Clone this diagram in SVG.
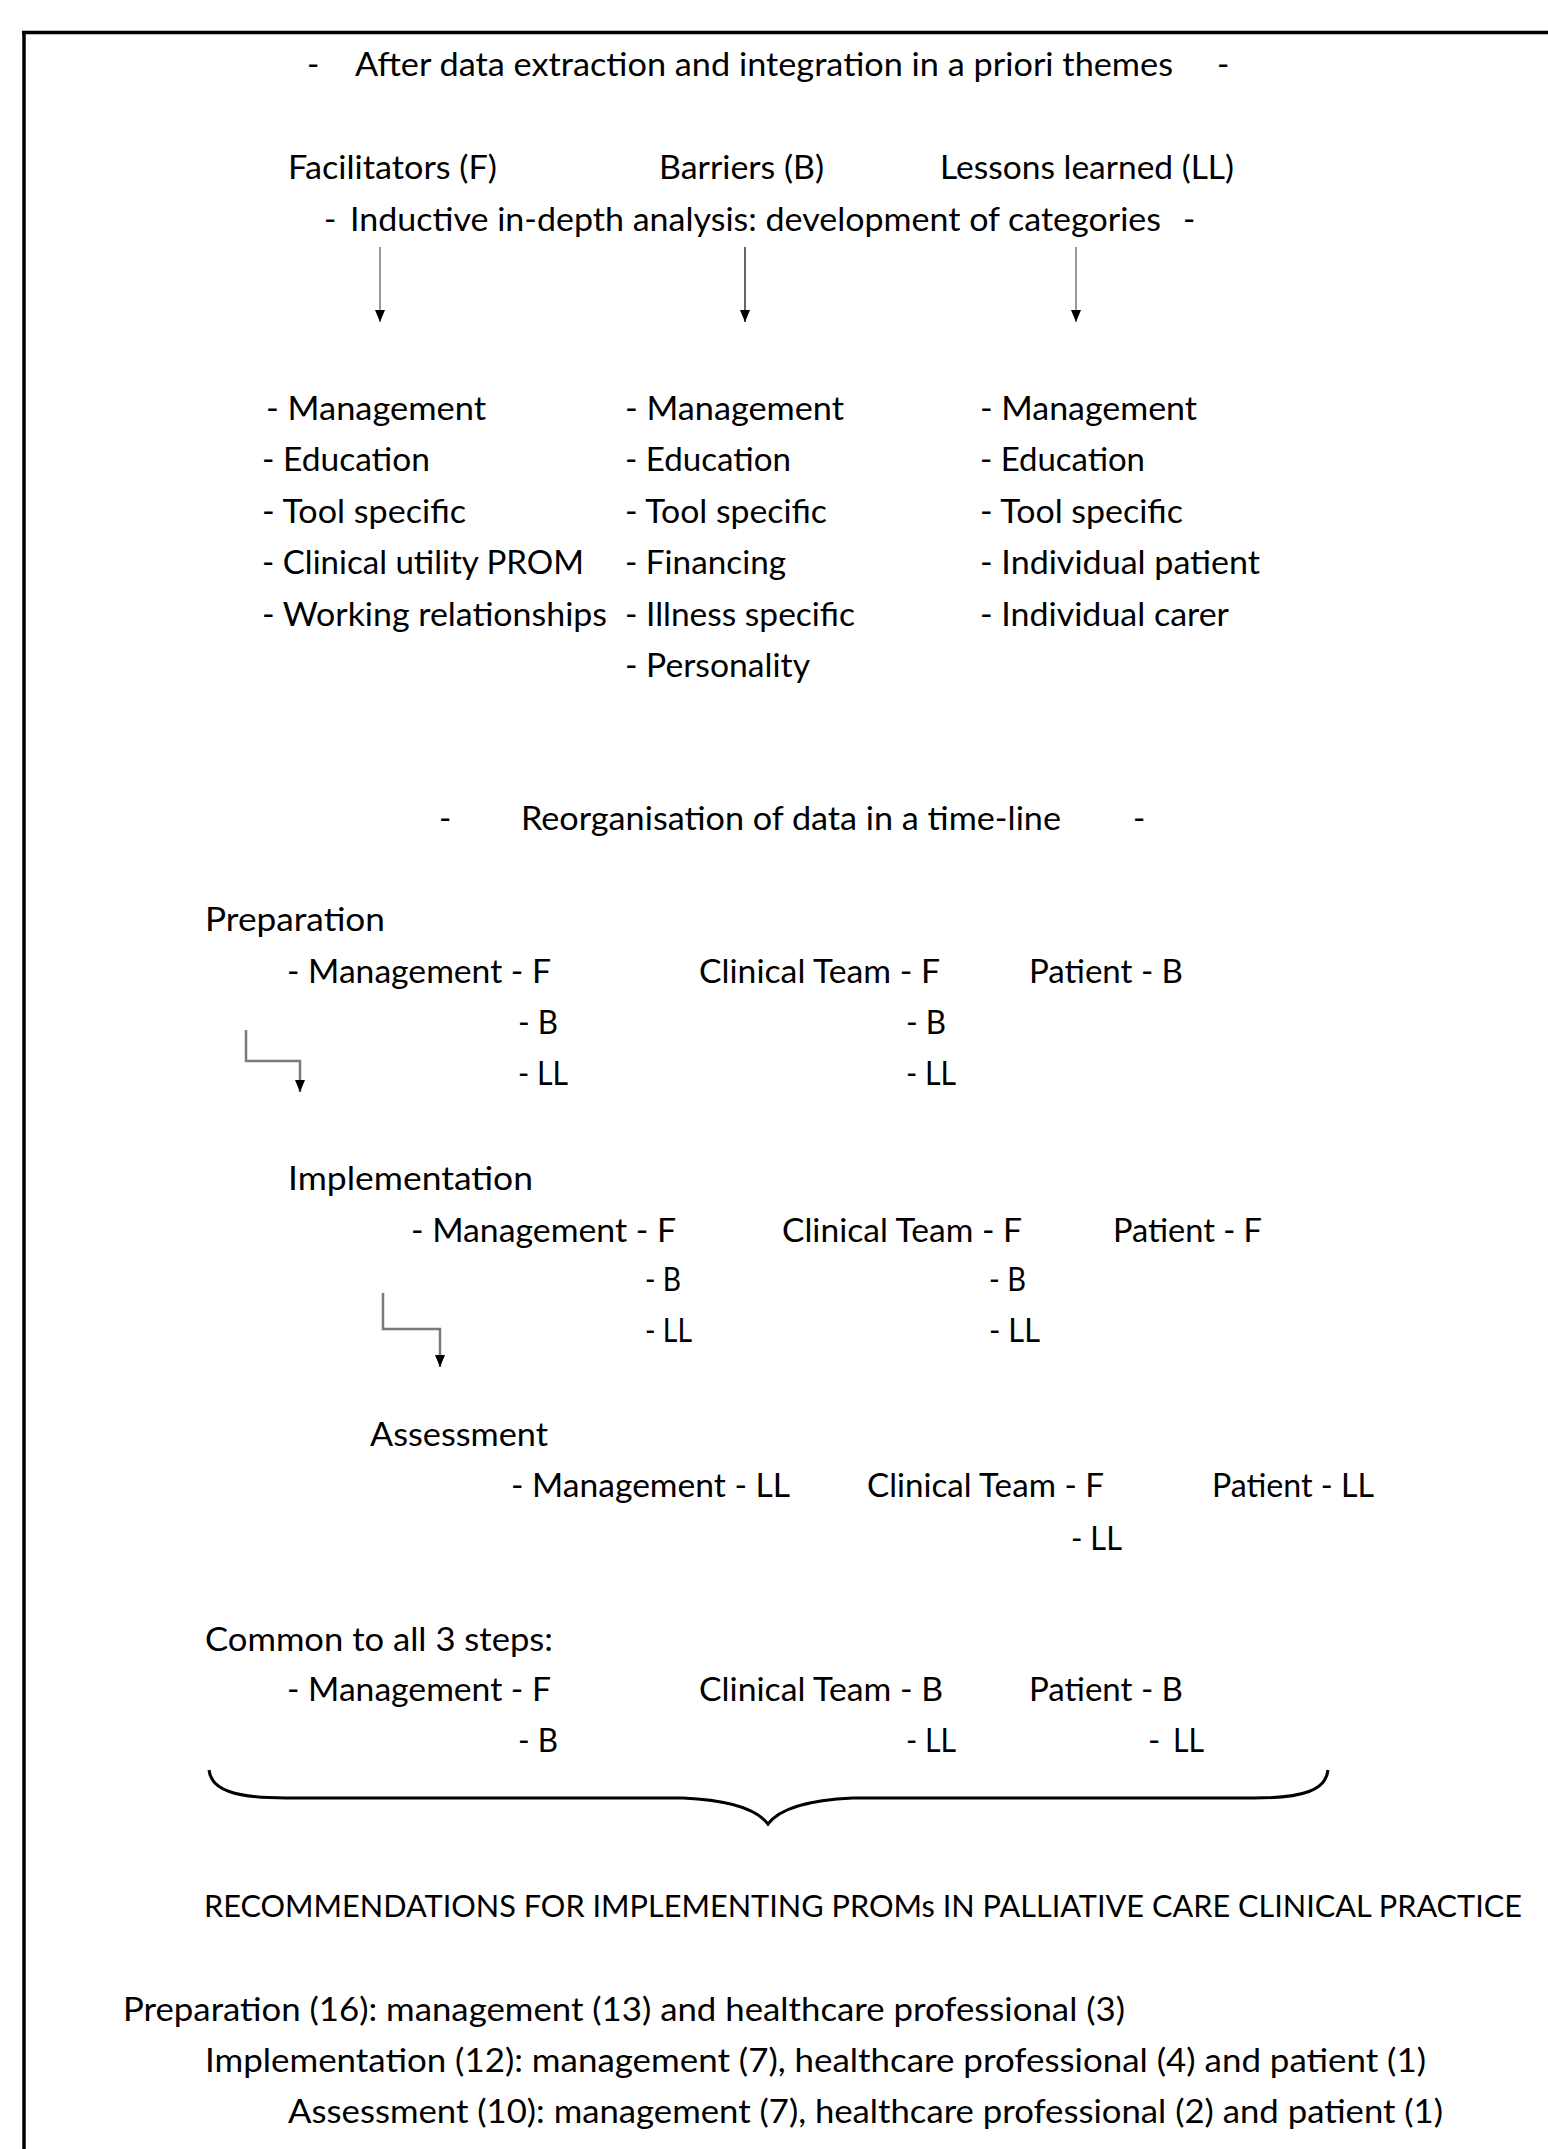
<svg xmlns="http://www.w3.org/2000/svg" width="1548" height="2149" viewBox="0 0 1548 2149">
<style>
.t{font-family:Lato,"Open Sans","Liberation Sans",sans-serif;font-size:33px;fill:#000}
.frame{stroke:#000;stroke-width:3.5;fill:none}
.arr{stroke:#999;stroke-width:2;fill:none}
.elb{stroke:#7a7a7a;stroke-width:2.5;fill:none}
.brace{stroke:#000;stroke-width:3;fill:none}
</style>
<defs>
<marker id="ah" viewBox="0 0 12 10" refX="12" refY="5" markerWidth="12" markerHeight="10" markerUnits="userSpaceOnUse" orient="auto">
<path d="M0,0 L12,5 L0,10 z" fill="#000"/>
</marker>
</defs>
<rect width="1548" height="2149" fill="#fff"/>
<g id="frame">
<line class="frame" x1="22" y1="32.5" x2="1548" y2="32.5"/>
<line class="frame" x1="24" y1="31" x2="24" y2="2149"/>
</g>
<g id="header1">
<text class="t" x="307" y="76">-</text>
<text class="t" x="355" y="76" textLength="818" lengthAdjust="spacingAndGlyphs">After data extraction and integration in a priori themes</text>
<text class="t" x="1217" y="76">-</text>
</g>
<g id="themes">
<text class="t" x="288" y="179" textLength="209" lengthAdjust="spacingAndGlyphs">Facilitators (F)</text>
<text class="t" x="659" y="179" textLength="165" lengthAdjust="spacingAndGlyphs">Barriers (B)</text>
<text class="t" x="940" y="179" textLength="294" lengthAdjust="spacingAndGlyphs">Lessons learned (LL)</text>
</g>
<g id="header2">
<text class="t" x="324" y="231">-</text>
<text class="t" x="350" y="231" textLength="811" lengthAdjust="spacingAndGlyphs">Inductive in-depth analysis: development of categories</text>
<text class="t" x="1183" y="231">-</text>
</g>
<g id="cat-facilitators">
<text class="t" x="266" y="420" textLength="220" lengthAdjust="spacingAndGlyphs">- Management</text>
<text class="t" x="262" y="471" textLength="168" lengthAdjust="spacingAndGlyphs">- Education</text>
<text class="t" x="262" y="523" textLength="204" lengthAdjust="spacingAndGlyphs">- Tool specific</text>
<text class="t" x="262" y="574" textLength="322" lengthAdjust="spacingAndGlyphs">- Clinical utility PROM</text>
<text class="t" x="262" y="626" textLength="345" lengthAdjust="spacingAndGlyphs">- Working relationships</text>
</g>
<g id="cat-barriers">
<text class="t" x="625" y="420" textLength="219" lengthAdjust="spacingAndGlyphs">- Management</text>
<text class="t" x="625" y="471" textLength="166" lengthAdjust="spacingAndGlyphs">- Education</text>
<text class="t" x="625" y="523" textLength="202" lengthAdjust="spacingAndGlyphs">- Tool specific</text>
<text class="t" x="625" y="574" textLength="161" lengthAdjust="spacingAndGlyphs">- Financing</text>
<text class="t" x="625" y="626" textLength="230" lengthAdjust="spacingAndGlyphs">- Illness specific</text>
<text class="t" x="625" y="677" textLength="185" lengthAdjust="spacingAndGlyphs">- Personality</text>
</g>
<g id="cat-lessons">
<text class="t" x="980" y="420" textLength="217" lengthAdjust="spacingAndGlyphs">- Management</text>
<text class="t" x="980" y="471" textLength="165" lengthAdjust="spacingAndGlyphs">- Education</text>
<text class="t" x="980" y="523" textLength="203" lengthAdjust="spacingAndGlyphs">- Tool specific</text>
<text class="t" x="980" y="574" textLength="280" lengthAdjust="spacingAndGlyphs">- Individual patient</text>
<text class="t" x="980" y="626" textLength="249" lengthAdjust="spacingAndGlyphs">- Individual carer</text>
</g>
<g id="header3">
<text class="t" x="439" y="830">-</text>
<text class="t" x="521" y="830" textLength="540" lengthAdjust="spacingAndGlyphs">Reorganisation of data in a time-line</text>
<text class="t" x="1133" y="830">-</text>
</g>
<g id="preparation">
<text class="t" x="205" y="931" textLength="180" lengthAdjust="spacingAndGlyphs">Preparation</text>
<text class="t" x="287" y="983" textLength="264" lengthAdjust="spacingAndGlyphs">- Management - F</text>
<text class="t" x="518" y="1034" textLength="40" lengthAdjust="spacingAndGlyphs">- B</text>
<text class="t" x="518" y="1085" textLength="50" lengthAdjust="spacingAndGlyphs">- LL</text>
<text class="t" x="699" y="983" textLength="241" lengthAdjust="spacingAndGlyphs">Clinical Team - F</text>
<text class="t" x="906" y="1034" textLength="40" lengthAdjust="spacingAndGlyphs">- B</text>
<text class="t" x="906" y="1085" textLength="50" lengthAdjust="spacingAndGlyphs">- LL</text>
<text class="t" x="1029" y="983" textLength="154" lengthAdjust="spacingAndGlyphs">Patient - B</text>
</g>
<g id="implementation">
<text class="t" x="288" y="1190" textLength="245" lengthAdjust="spacingAndGlyphs">Implementation</text>
<text class="t" x="411" y="1242" textLength="265" lengthAdjust="spacingAndGlyphs">- Management - F</text>
<text class="t" x="645" y="1291" textLength="36" lengthAdjust="spacingAndGlyphs">- B</text>
<text class="t" x="645" y="1342" textLength="47" lengthAdjust="spacingAndGlyphs">- LL</text>
<text class="t" x="782" y="1242" textLength="240" lengthAdjust="spacingAndGlyphs">Clinical Team - F</text>
<text class="t" x="989" y="1291" textLength="37" lengthAdjust="spacingAndGlyphs">- B</text>
<text class="t" x="989" y="1342" textLength="51" lengthAdjust="spacingAndGlyphs">- LL</text>
<text class="t" x="1113" y="1242" textLength="149" lengthAdjust="spacingAndGlyphs">Patient - F</text>
</g>
<g id="assessment">
<text class="t" x="370" y="1446" textLength="178" lengthAdjust="spacingAndGlyphs">Assessment</text>
<text class="t" x="511" y="1497" textLength="279" lengthAdjust="spacingAndGlyphs">- Management - LL</text>
<text class="t" x="867" y="1497" textLength="237" lengthAdjust="spacingAndGlyphs">Clinical Team - F</text>
<text class="t" x="1071" y="1550" textLength="51" lengthAdjust="spacingAndGlyphs">- LL</text>
<text class="t" x="1212" y="1497" textLength="162" lengthAdjust="spacingAndGlyphs">Patient - LL</text>
</g>
<g id="common">
<text class="t" x="205" y="1651" textLength="348" lengthAdjust="spacingAndGlyphs">Common to all 3 steps:</text>
<text class="t" x="287" y="1701" textLength="264" lengthAdjust="spacingAndGlyphs">- Management - F</text>
<text class="t" x="518" y="1752" textLength="40" lengthAdjust="spacingAndGlyphs">- B</text>
<text class="t" x="699" y="1701" textLength="244" lengthAdjust="spacingAndGlyphs">Clinical Team - B</text>
<text class="t" x="906" y="1752" textLength="50" lengthAdjust="spacingAndGlyphs">- LL</text>
<text class="t" x="1029" y="1701" textLength="154" lengthAdjust="spacingAndGlyphs">Patient - B</text>
<text class="t" x="1148" y="1752">-</text>
<text class="t" x="1173" y="1752" textLength="31" lengthAdjust="spacingAndGlyphs">LL</text>
</g>
<g id="recommendations">
<text class="t" x="204" y="1917" style="font-size:31px" textLength="1318" lengthAdjust="spacingAndGlyphs">RECOMMENDATIONS FOR IMPLEMENTING PROMs IN PALLIATIVE CARE CLINICAL PRACTICE</text>
</g>
<g id="summary">
<text class="t" x="123" y="2021" textLength="1002" lengthAdjust="spacingAndGlyphs">Preparation (16): management (13) and healthcare professional (3)</text>
<text class="t" x="205" y="2072" textLength="1221" lengthAdjust="spacingAndGlyphs">Implementation (12): management (7), healthcare professional (4) and patient (1)</text>
<text class="t" x="288" y="2123" textLength="1155" lengthAdjust="spacingAndGlyphs">Assessment (10): management (7), healthcare professional (2) and patient (1)</text>
</g>
<g id="connectors">
<line class="arr" x1="380" y1="247" x2="380" y2="322" marker-end="url(#ah)"/>
<line class="arr" x1="745" y1="247" x2="745" y2="322" marker-end="url(#ah)" style="stroke:#666"/>
<line class="arr" x1="1076" y1="247" x2="1076" y2="322" marker-end="url(#ah)"/>
<path class="elb" d="M246,1030 V1061 H300 V1092" marker-end="url(#ah)"/>
<path class="elb" d="M383,1293 V1329 H440 V1367" marker-end="url(#ah)"/>
<path class="brace" d="M209,1770 C211,1790 235,1798 286,1798 L683,1798 C728,1800 756,1808 768,1824 C780,1808 808,1800 853,1798 L1254,1798 C1304,1798 1326,1790 1328,1770"/>
</g>
</svg>
